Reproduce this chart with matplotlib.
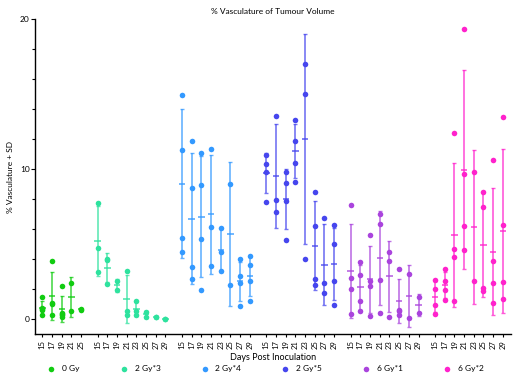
import numpy as np
import matplotlib.pyplot as plt

plt.rcParams['font.family'] = ['Lato', 'DejaVu Sans']

groups = ['0 Gy', '2 Gy*3', '2 Gy*4', '2 Gy*5', '6 Gy*1', '6 Gy*2']
colors = ['#11cc11', '#2ee29e', '#3399ff', '#4646ee', '#aa44dd', '#ff22cc']
days_0gy = [15, 17, 19, 21, 25]
days = [15, 17, 19, 21, 23, 25, 27, 29]

# % vasculature per mouse, one list per day
gy0 = [[1.5, 0.75, 0.7, 0.65, 0.3], [3.9, 1.1, 1.0, 0.3],
       [2.2, 0.4, 0.35, 0.3, 0.15], [2.45, 0.57], [0.65, 0.68]]
gy2x3 = [[7.73, 4.73, 3.13], [4.02, 3.95, 2.33], [2.57, 1.95], [3.2, 0.53, 0.29],
         [1.24, 0.57, 0.27], [0.51, 0.15], [0.18, 0.16], [0.04, 0.03]]
gy2x4 = [[14.93, 11.31, 5.4, 4.49], [11.89, 8.73, 3.51, 2.69],
         [11.11, 8.93, 5.35, 1.95], [11.35, 6.13, 3.57], [6.11, 4.51, 3.22],
         [9.05, 2.27], [4.0, 2.89, 2.4, 0.87], [4.22, 3.62, 2.53, 1.2]]
gy2x5 = [[10.95, 10.37, 9.8, 7.84], [13.57, 7.93, 7.17], [9.82, 9.11, 7.87, 5.27],
         [13.31, 11.91, 10.44, 9.15], [17.0, 15.0, 4.04], [8.49, 6.24, 2.67, 2.27],
         [6.73, 2.4, 1.75], [6.27, 5.04, 2.53, 0.93]]
gy6x1 = [[7.64, 2.73, 2.04, 0.35], [3.82, 2.97, 1.2, 0.57], [5.64, 2.57, 2.22, 0.22],
         [7.0, 6.33, 2.6, 0.42], [4.51, 3.91, 0.17], [3.37, 0.62, 0.53, 0.29],
         [3.0, 0.07], [1.49, 0.42]]
gy6x2 = [[2.64, 2.04, 0.93, 0.37], [3.35, 2.55, 1.95, 1.29], [12.44, 4.71, 4.17, 1.22],
         [19.37, 9.71, 6.24, 4.62], [9.8, 2.53], [8.47, 7.49, 2.07, 1.89],
         [10.64, 3.91, 2.4, 1.07], [13.49, 6.27, 2.51, 1.35]]

data = [gy0, gy2x3, gy2x4, gy2x5, gy6x1, gy6x2]
group_days = [days_0gy] + [days] * 5

fig = plt.figure(figsize=(5.2, 3.8), dpi=100)
ax = fig.add_axes([0.068, 0.1203, 0.914, 0.8289])

gap = 1.7
tick_pos, tick_lab = [], []
start = 0.0
for g, (vals, dd, col) in enumerate(zip(data, group_days, colors)):
    xs = start + np.arange(len(dd))
    for x, v in zip(xs, vals):
        v = np.array(v)
        m = v.mean()
        sd = v.std(ddof=1) if len(v) > 1 else 0
        ax.scatter([x] * len(v), v, s=16, color=col, zorder=3, linewidths=0,
                   label=groups[g] if x == xs[0] else None)
        if sd > 0.02:
            ax.errorbar(x, m, yerr=sd, fmt='none', ecolor=col, alpha=0.75,
                        elinewidth=1.2, capsize=1.6, capthick=1.0, zorder=2)
        ax.hlines(m, x - 0.33, x + 0.33, color=col, alpha=0.75, lw=1.3, zorder=2)
    tick_pos += list(xs)
    tick_lab += [str(d) for d in dd]
    start = xs[-1] + gap

ax.set_xlim(-0.72, tick_pos[-1] + 0.8)
ax.set_ylim(-1, 20)
ax.set_xticks(tick_pos)
ax.set_xticklabels(tick_lab, rotation=90, fontsize=5.5)
ax.set_yticks([0, 10, 20])
ax.set_yticks(np.arange(0, 21, 2), minor=True)
ax.tick_params(axis='y', labelsize=6, length=3, width=0.8, pad=1)
ax.tick_params(axis='y', which='minor', length=2, width=0.8)
ax.tick_params(axis='x', length=2.5, width=0.8, pad=1.5)
for s in ['top', 'right']:
    ax.spines[s].set_visible(False)
for s in ['left', 'bottom']:
    ax.spines[s].set_linewidth(1.0)

ax.set_title('% Vasculature of Tumour Volume', fontsize=6, pad=4)
ax.set_ylabel('% Vasculature + SD', fontsize=6, labelpad=4)
ax.set_xlabel('Days Post Inoculation', fontsize=6.5, labelpad=3)

fig.legend(loc='lower left', bbox_to_anchor=(0.076, 0.0), ncol=6, frameon=False,
           fontsize=6, handlelength=1.0, handletextpad=0.8, columnspacing=4.8,
           borderaxespad=0.5)

fig.savefig('out.png', dpi=100)
